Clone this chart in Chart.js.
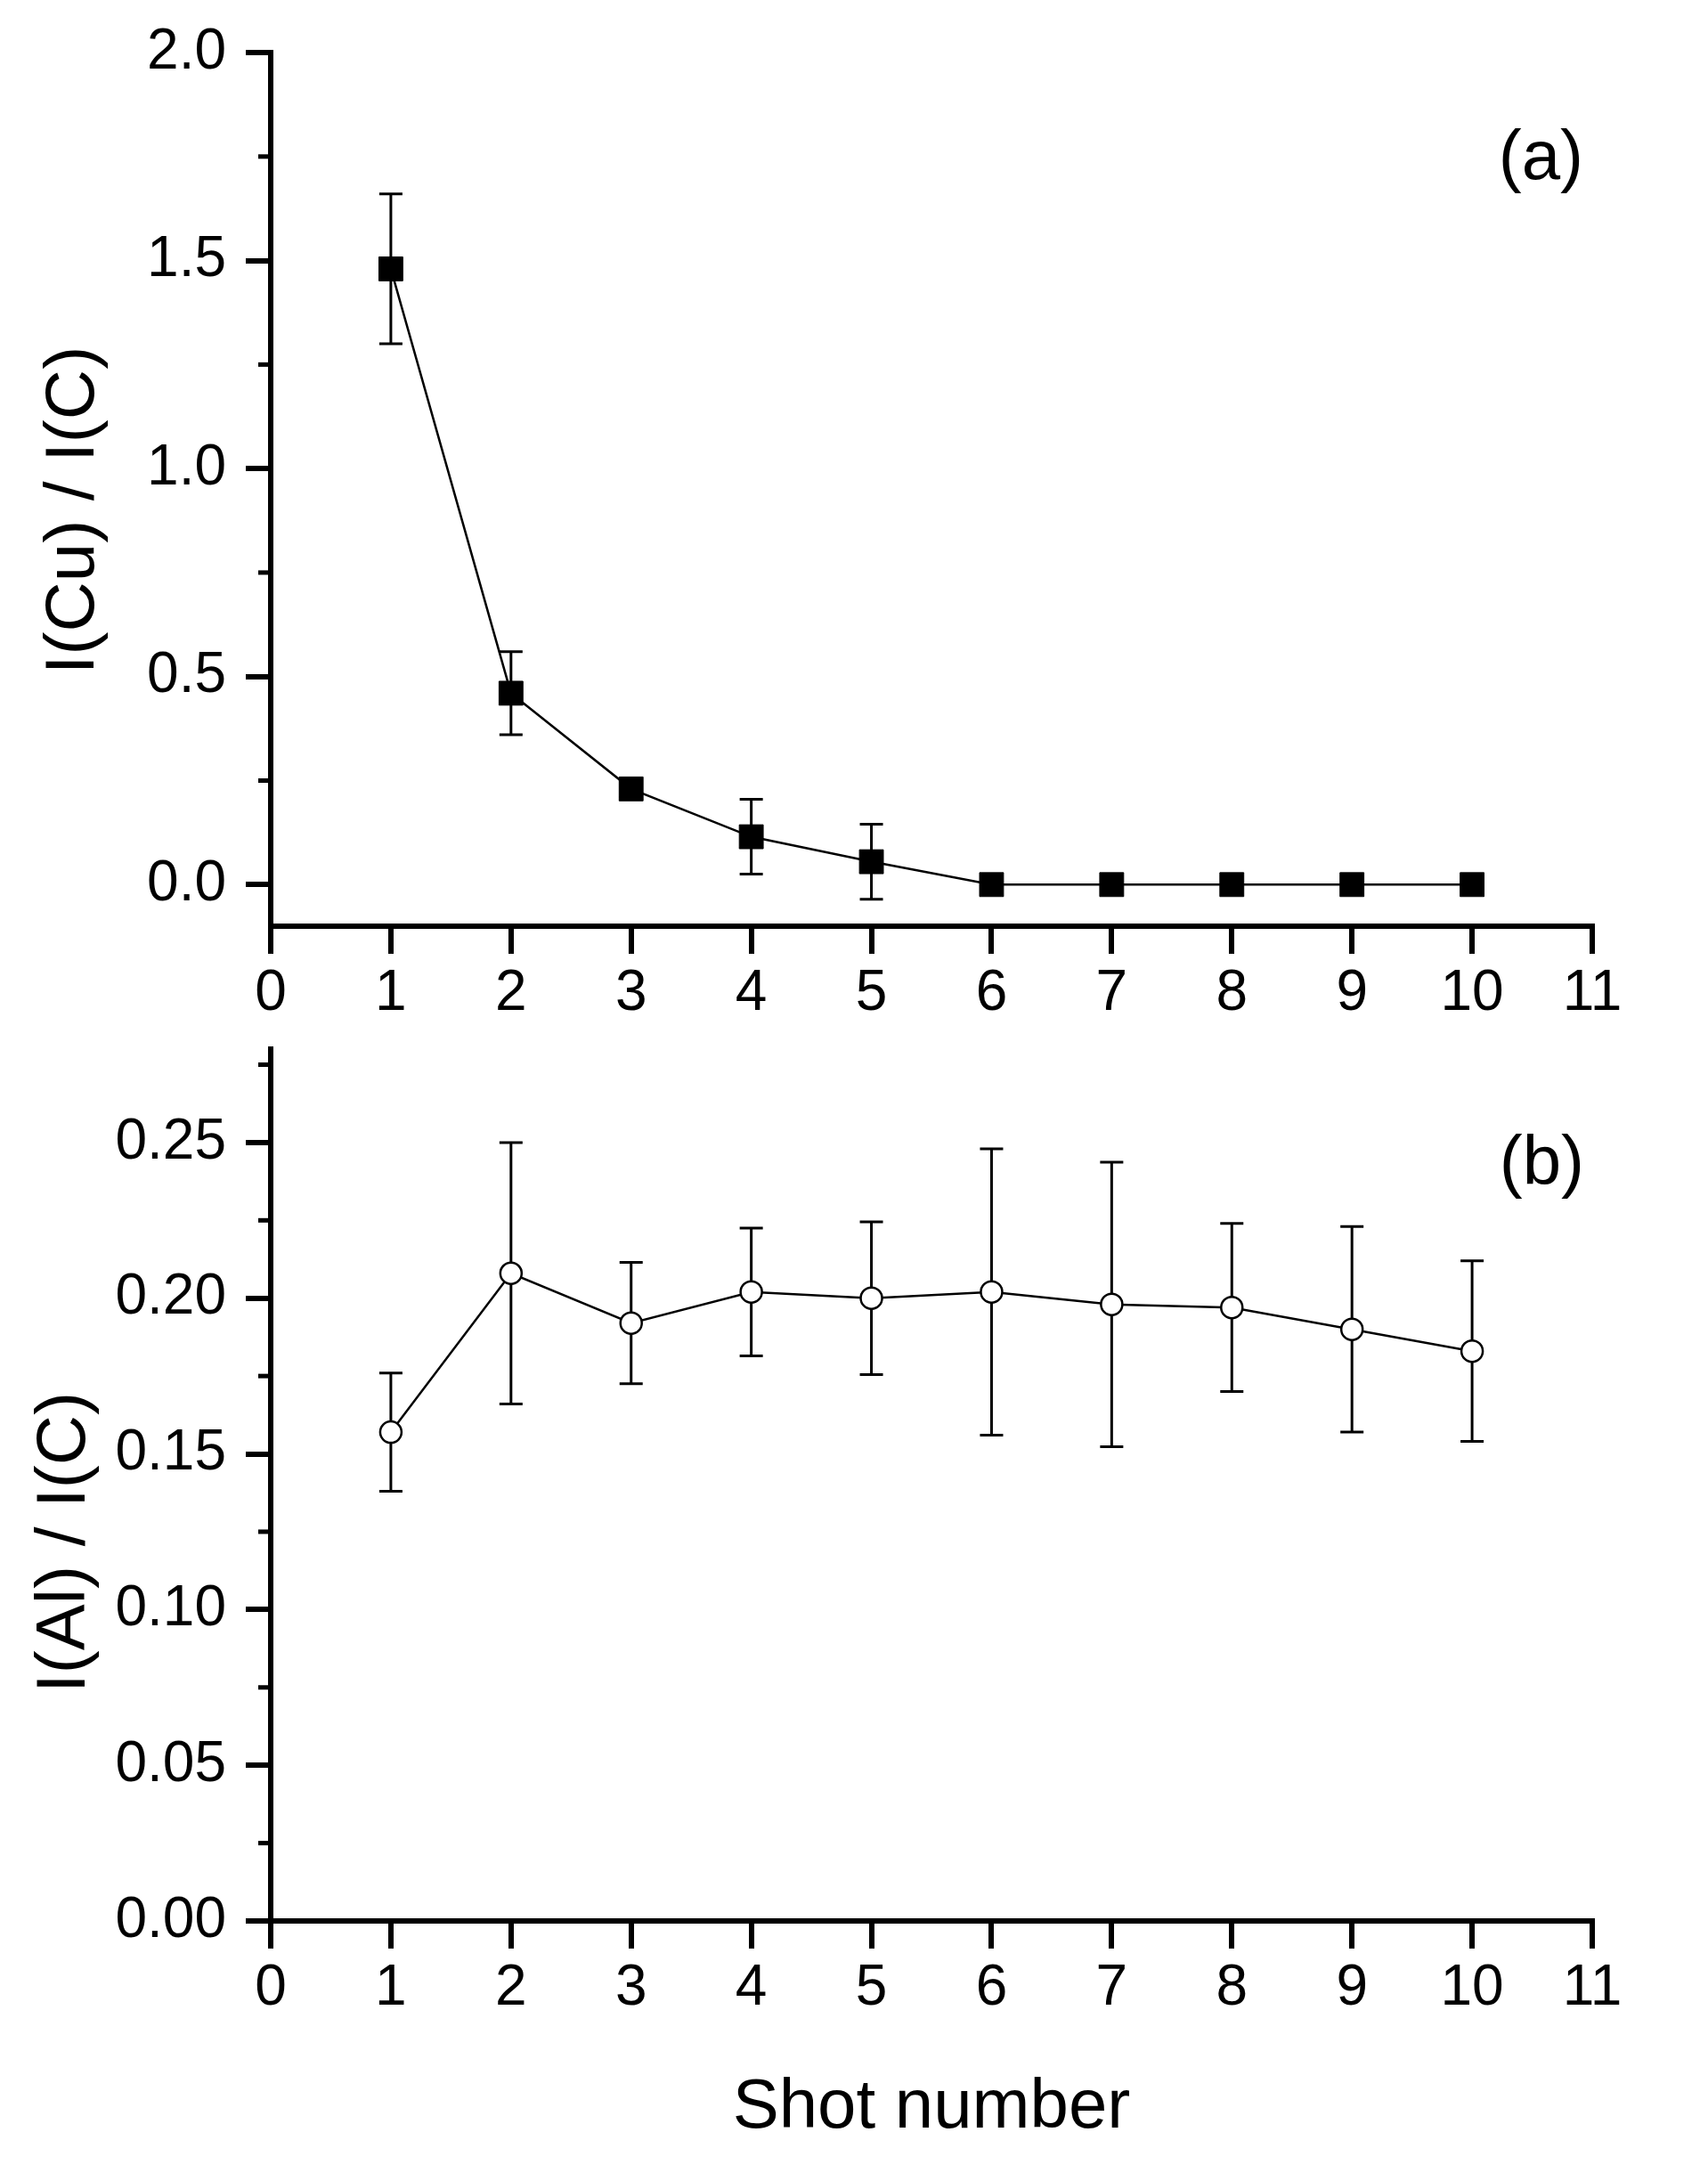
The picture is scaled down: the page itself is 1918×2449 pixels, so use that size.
<!DOCTYPE html>
<html><head><meta charset="utf-8">
<script src="https://cdn.jsdelivr.net/npm/chart.js@4.4.1/dist/chart.umd.min.js"></script>
<style>
html,body{margin:0;padding:0;background:#fff;}
#wrap{position:relative;width:1918px;height:2449px;background:#fff;}
#c1{position:absolute;left:0;top:0;}
#c2{position:absolute;left:0;top:1150px;}
</style></head><body>
<div id="wrap"><canvas id="c1" width="1918" height="1150"></canvas><canvas id="c2" width="1918" height="1299"></canvas></div>
<script>
// ---- data ----
const shots = [1, 2, 3, 4, 5, 6, 7, 8, 9, 10];
const cuRatio = [1.48, 0.46, 0.23, 0.115, 0.055, 0, 0, 0, 0, 0];
const cuError = [0.18, 0.10, 0.02, 0.09, 0.09, 0, 0, 0, 0, 0];
const alRatio = [0.157, 0.208, 0.192, 0.202, 0.200, 0.202, 0.198, 0.197, 0.190, 0.183];
const alError = [0.019, 0.042, 0.0195, 0.0205, 0.0245, 0.046, 0.0457, 0.027, 0.033, 0.029];
const xTicks = [0, 1, 2, 3, 4, 5, 6, 7, 8, 9, 10, 11];
const cuMajorTicks = [0, 0.5, 1.0, 1.5, 2.0];
const cuMinorTicks = [0.25, 0.75, 1.25, 1.75];
const alMajorTicks = [0, 0.05, 0.10, 0.15, 0.20, 0.25];
const alMinorTicks = [0.025, 0.075, 0.125, 0.175, 0.225, 0.275];
const xTitle = 'Shot number';
const cuTitle = 'I(Cu) / I(C)';
const alTitle = 'I(Al) / I(C)';
const panelA = '(a)';
const panelB = '(b)';

const FAMILY = '"Liberation Sans", Arial, Helvetica, sans-serif';

const decorPlugin = {
  id: 'decor',
  beforeDatasetsDraw(chart, args, opts) {
    const ctx = chart.ctx, xs = chart.scales.x, ys = chart.scales.y;
    ctx.save();
    ctx.strokeStyle = '#000'; ctx.lineWidth = 3; ctx.lineCap = 'butt';
    opts.values.forEach((v, i) => {
      const e = opts.errors[i]; if (!e) return;
      const x = xs.getPixelForValue(shots[i]);
      const y1 = ys.getPixelForValue(v + e), y2 = ys.getPixelForValue(v - e);
      ctx.beginPath();
      ctx.moveTo(x, y1); ctx.lineTo(x, y2);
      ctx.moveTo(x - 13, y1); ctx.lineTo(x + 13, y1);
      ctx.moveTo(x - 13, y2); ctx.lineTo(x + 13, y2);
      ctx.stroke();
    });
    ctx.restore();
  },
  afterDraw(chart, args, opts) {
    const ctx = chart.ctx, ys = chart.scales.y, left = chart.chartArea.left;
    ctx.save();
    ctx.strokeStyle = '#000'; ctx.lineWidth = 5;
    opts.minor.forEach(v => {
      const y = ys.getPixelForValue(v);
      ctx.beginPath(); ctx.moveTo(left - 14, y); ctx.lineTo(left, y); ctx.stroke();
    });
    ctx.fillStyle = '#000';
    ctx.font = '78px ' + FAMILY;
    ctx.save();
    ctx.translate(opts.yTitleX, opts.yTitleY);
    ctx.rotate(-Math.PI / 2);
    ctx.textAlign = 'center'; ctx.textBaseline = 'alphabetic';
    ctx.fillText(opts.yTitle, 0, 0);
    ctx.restore();
    ctx.textAlign = 'right'; ctx.textBaseline = 'alphabetic';
    ctx.fillText(opts.panel, opts.panelX, opts.panelY);
    ctx.restore();
  }
};

function makeChart(canvas, cfg) {
  const axisGrid = (len) => ({drawOnChartArea: false, drawTicks: true, tickLength: len, tickWidth: 6, tickColor: '#000', lineWidth: 6, color: '#000'});
  return new Chart(canvas, {
    type: 'line',
    data: {
      datasets: [{
        data: shots.map((s, i) => ({x: s, y: cfg.values[i]})),
        borderColor: '#000', borderWidth: 2.5, tension: 0, fill: false,
        pointStyle: cfg.pointStyle, pointRadius: cfg.radius,
        pointBackgroundColor: cfg.fill, pointBorderColor: '#000', pointBorderWidth: cfg.pbw,
        clip: false
      }]
    },
    options: {
      responsive: false, animation: false, devicePixelRatio: 1,
      layout: {padding: {top: cfg.padTop, right: 130, left: 0, bottom: 0}},
      plugins: {
        legend: {display: false}, tooltip: {enabled: false},
        decor: {values: cfg.values, errors: cfg.errors, minor: cfg.minor, yTitle: cfg.yTitle,
                yTitleX: cfg.yTitleX, yTitleY: cfg.yTitleY, panel: cfg.panel, panelX: cfg.panelX, panelY: cfg.panelY}
      },
      scales: {
        x: {
          type: 'linear', min: 0, max: 11,
          afterBuildTicks: s => { s.ticks = xTicks.map(v => ({value: v})); },
          afterFit: s => { s.height = cfg.xHeight; },
          grid: axisGrid(31),
          border: {display: true, width: 6, color: '#000'},
          ticks: {color: '#000', font: {family: FAMILY, size: 64}, padding: 7, maxRotation: 0, autoSkip: false, callback: v => String(v)},
          title: cfg.xTitle ? {display: true, text: cfg.xTitle, color: '#000', font: {family: FAMILY, size: 78}, padding: {top: 0, bottom: 35}} : {display: false}
        },
        y: {
          type: 'linear', min: cfg.yMin, max: cfg.yMax,
          afterBuildTicks: s => { s.ticks = cfg.major.map(v => ({value: v})); },
          afterFit: s => { s.width = 304; s.paddingTop = 0; s.paddingBottom = 0; },
          grid: axisGrid(28),
          border: {display: true, width: 6, color: '#000'},
          ticks: {color: '#000', font: {family: FAMILY, size: 64}, padding: 22, callback: v => Number(v).toFixed(cfg.dec)}
        }
      }
    },
    plugins: [decorPlugin]
  });
}

makeChart(document.getElementById('c1'), {
  values: cuRatio, errors: cuError, minor: cuMinorTicks, major: cuMajorTicks,
  yMin: -0.1, yMax: 2.0, dec: 1, padTop: 59, xHeight: 110,
  pointStyle: 'rect', radius: 19, fill: '#000', pbw: 1,
  yTitle: cuTitle, yTitleX: 105, yTitleY: 573, panel: panelA, panelX: 1778, panelY: 201,
  xTitle: null
});
makeChart(document.getElementById('c2'), {
  values: alRatio, errors: alError, minor: alMinorTicks, major: alMajorTicks,
  yMin: 0, yMax: 0.28, dec: 2, padTop: 28, xHeight: 292,
  pointStyle: 'circle', radius: 12, fill: '#fff', pbw: 2.5,
  yTitle: alTitle, yTitleX: 95, yTitleY: 582, panel: panelB, panelX: 1779, panelY: 180,
  xTitle: xTitle
});
</script>
</body></html>
